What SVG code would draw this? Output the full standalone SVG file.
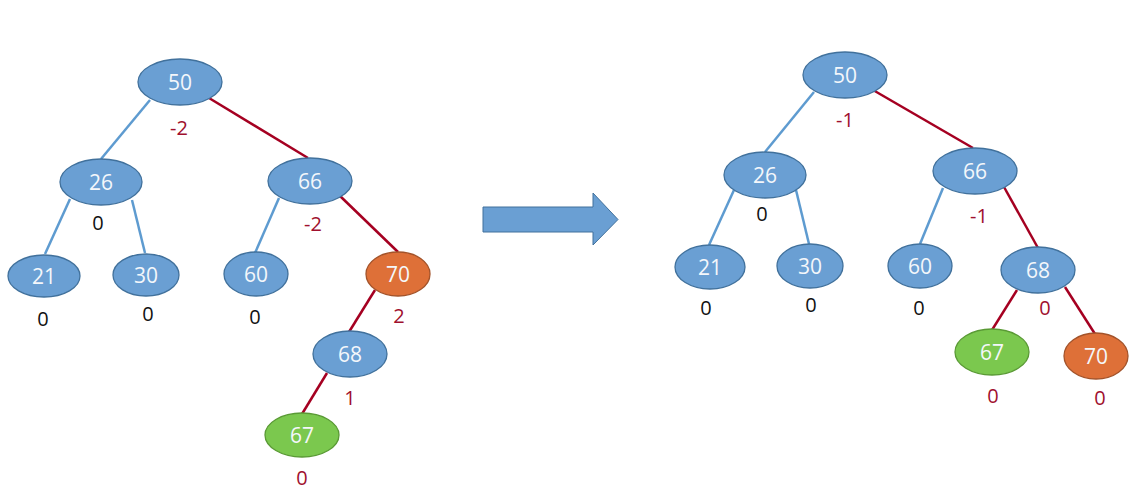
<svg xmlns="http://www.w3.org/2000/svg" width="1142" height="494" viewBox="0 0 1142 494">
<style>
.n{fill:#6A9FD3;stroke:#41719C;stroke-width:1.3}
.o{fill:#DE7038;stroke:#A3532A;stroke-width:1.3}
.g{fill:#7BC84E;stroke:#5A9A35;stroke-width:1.3}
.t{font-family:"Open Sans","Liberation Sans",sans-serif;font-size:21px;fill:#F4F7FB;text-anchor:middle;dominant-baseline:central}
.lb{font-family:"Open Sans","Liberation Sans",sans-serif;font-size:20px;fill:#111;text-anchor:middle;dominant-baseline:central}
.lr{font-family:"Open Sans","Liberation Sans",sans-serif;font-size:20px;fill:#A0102E;text-anchor:middle;dominant-baseline:central}
.eb{stroke:#5E9BD0;stroke-width:2.5;fill:none}
.er{stroke:#A50021;stroke-width:2.5;fill:none}
</style>
<rect width="1142" height="494" fill="#FFFFFF"/>
<g id="connectors">
<line class="eb" x1="150" y1="100" x2="101" y2="159"/>
<line class="er" x1="209" y1="98" x2="308" y2="158"/>
<line class="eb" x1="70" y1="199" x2="45" y2="254"/>
<line class="eb" x1="132" y1="200" x2="145" y2="253"/>
<line class="eb" x1="279" y1="198" x2="255" y2="253"/>
<line class="er" x1="339" y1="195" x2="398" y2="252"/>
<line class="er" x1="375" y1="290" x2="349" y2="332"/>
<line class="er" x1="327" y1="373" x2="302" y2="414"/>
<line class="eb" x1="814" y1="92" x2="765" y2="152"/>
<line class="er" x1="873" y1="90" x2="973" y2="148"/>
<line class="eb" x1="734" y1="190" x2="709" y2="245"/>
<line class="eb" x1="796" y1="190" x2="809" y2="244"/>
<line class="eb" x1="943" y1="188" x2="920" y2="244"/>
<line class="er" x1="1004" y1="187" x2="1038" y2="248"/>
<line class="er" x1="1017" y1="290" x2="992" y2="330"/>
<line class="er" x1="1065" y1="287" x2="1095" y2="334"/>
</g>
<g id="arrow">
<polygon points="483,207 593,207 593,193 618,219.5 593,245 593,232 483,232" fill="#6A9FD3" stroke="#41719C" stroke-width="1"/>
</g>
<g id="L50"><ellipse class="n" cx="180" cy="82" rx="42" ry="23"/><text class="t" x="180" y="82">50</text><text class="lr" x="179" y="127">-2</text></g>
<g id="L26"><ellipse class="n" cx="101" cy="182" rx="41" ry="23"/><text class="t" x="101" y="182">26</text><text class="lb" x="98" y="222">0</text></g>
<g id="L66"><ellipse class="n" cx="310" cy="181" rx="42" ry="23"/><text class="t" x="310" y="181">66</text><text class="lr" x="313" y="223">-2</text></g>
<g id="L21"><ellipse class="n" cx="44" cy="276" rx="36" ry="21"/><text class="t" x="44" y="276">21</text><text class="lb" x="43" y="318">0</text></g>
<g id="L30"><ellipse class="n" cx="146" cy="275" rx="33" ry="21"/><text class="t" x="146" y="275">30</text><text class="lb" x="148" y="313">0</text></g>
<g id="L60"><ellipse class="n" cx="256" cy="274" rx="32" ry="22"/><text class="t" x="256" y="274">60</text><text class="lb" x="255" y="316">0</text></g>
<g id="L70"><ellipse class="o" cx="398" cy="274" rx="32" ry="22"/><text class="t" x="398" y="274">70</text><text class="lr" x="399" y="315">2</text></g>
<g id="L68"><ellipse class="n" cx="350" cy="354" rx="37" ry="23"/><text class="t" x="350" y="354">68</text><text class="lr" x="350" y="397">1</text></g>
<g id="L67"><ellipse class="g" cx="302" cy="435" rx="37" ry="22"/><text class="t" x="302" y="435">67</text><text class="lr" x="302" y="477">0</text></g>
<g id="R50"><ellipse class="n" cx="845" cy="75" rx="42" ry="23"/><text class="t" x="845" y="75">50</text><text class="lr" x="845" y="119">-1</text></g>
<g id="R26"><ellipse class="n" cx="765" cy="175" rx="41" ry="23"/><text class="t" x="765" y="175">26</text><text class="lb" x="762" y="213">0</text></g>
<g id="R66"><ellipse class="n" cx="975" cy="171" rx="42" ry="23"/><text class="t" x="975" y="171">66</text><text class="lr" x="979" y="215">-1</text></g>
<g id="R21"><ellipse class="n" cx="710" cy="267" rx="35" ry="22"/><text class="t" x="710" y="267">21</text><text class="lb" x="706" y="307">0</text></g>
<g id="R30"><ellipse class="n" cx="810" cy="266" rx="33" ry="22"/><text class="t" x="810" y="266">30</text><text class="lb" x="811" y="304">0</text></g>
<g id="R60"><ellipse class="n" cx="920" cy="266" rx="32" ry="22"/><text class="t" x="920" y="266">60</text><text class="lb" x="919" y="307">0</text></g>
<g id="R68"><ellipse class="n" cx="1038" cy="270" rx="37" ry="23"/><text class="t" x="1038" y="270">68</text><text class="lr" x="1045" y="307">0</text></g>
<g id="R67"><ellipse class="g" cx="992" cy="352" rx="37" ry="23"/><text class="t" x="992" y="352">67</text><text class="lr" x="993" y="395">0</text></g>
<g id="R70"><ellipse class="o" cx="1096" cy="356" rx="32" ry="23"/><text class="t" x="1096" y="356">70</text><text class="lr" x="1100" y="397">0</text></g>
</svg>
